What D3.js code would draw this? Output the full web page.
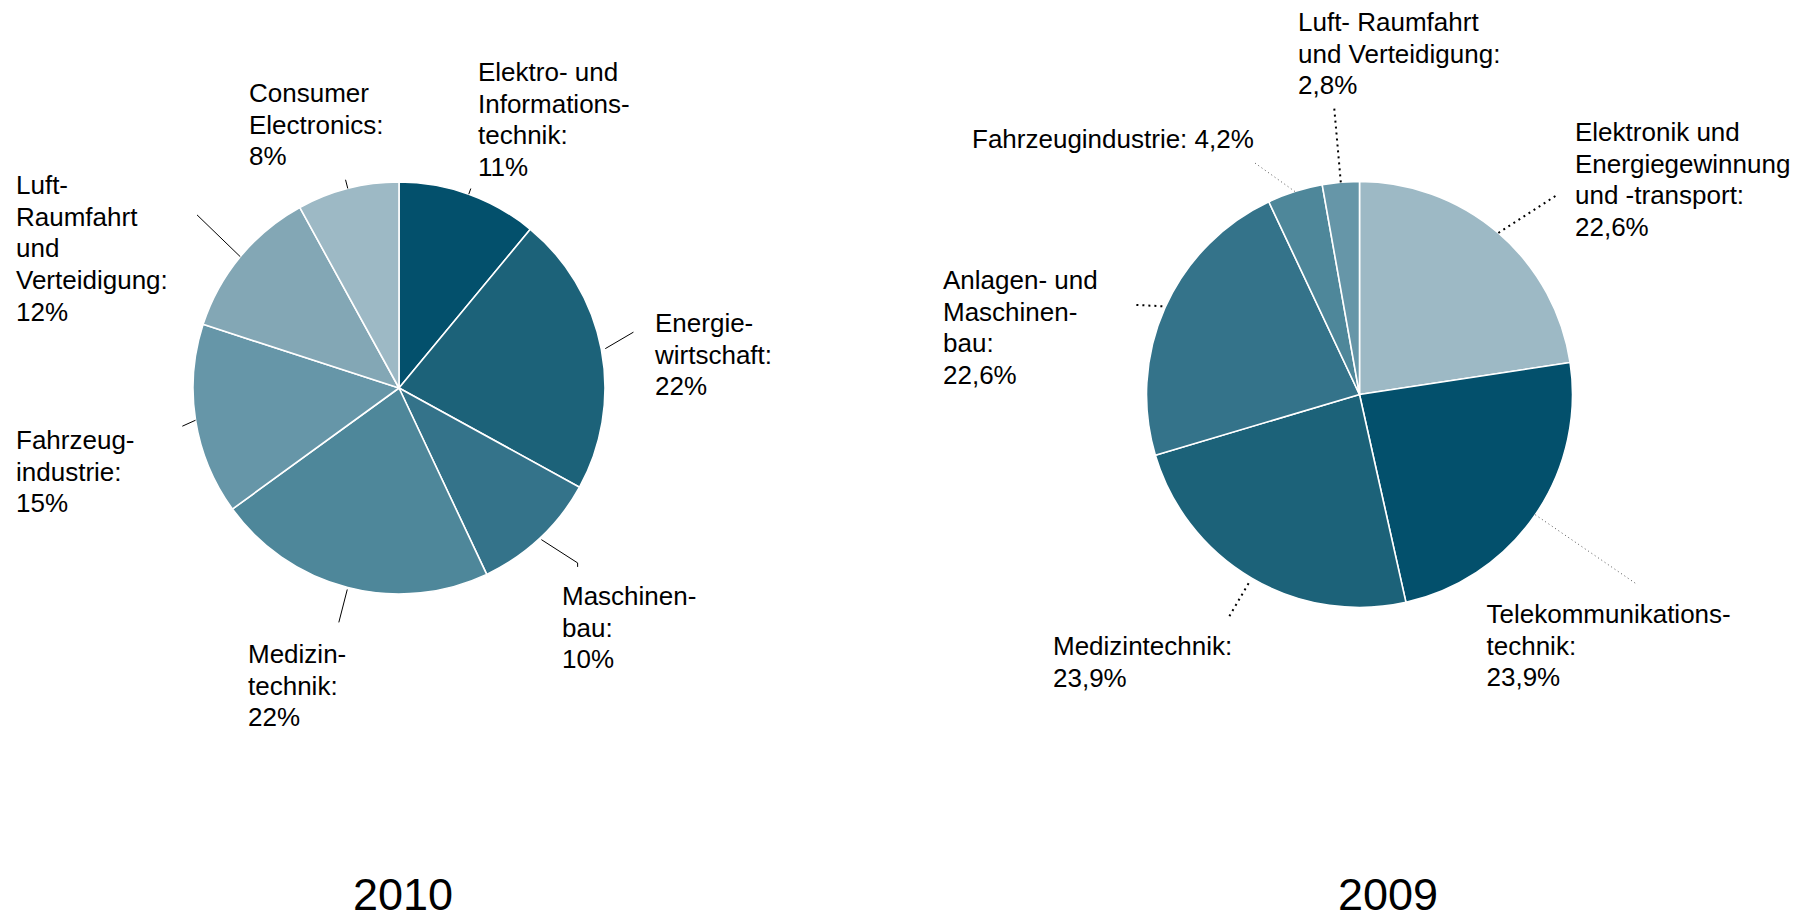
<!DOCTYPE html>
<html>
<head>
<meta charset="utf-8">
<script src="https://cdn.jsdelivr.net/npm/d3@7"></script>
<style>
  html, body { margin: 0; padding: 0; background: #fff; }
  svg { display: block; font-family: "Liberation Sans", Arial, sans-serif; }
  .label { font-size: 26px; fill: #000; }
  .title { font-size: 45px; fill: #000; }
</style>
</head>
<body>
<svg id="chart" width="1814" height="921"></svg>
<script>
// data
const years = ["2010", "2009"];

const categories2010 = [
  ["Elektro- und", "Informations-", "technik:"],
  ["Energie-", "wirtschaft:"],
  ["Maschinen-", "bau:"],
  ["Medizin-", "technik:"],
  ["Fahrzeug-", "industrie:"],
  ["Luft-", "Raumfahrt", "und", "Verteidigung:"],
  ["Consumer", "Electronics:"]
];
const values2010 = [11, 22, 10, 22, 15, 12, 8];

const categories2009 = [
  ["Elektronik und", "Energiegewinnung", "und -transport:"],
  ["Telekommunikations-", "technik:"],
  ["Medizintechnik:"],
  ["Anlagen- und", "Maschinen-", "bau:"],
  ["Fahrzeugindustrie:"],
  ["Luft- Raumfahrt", "und Verteidigung:"]
];
const values2009 = [22.6, 23.9, 23.9, 22.6, 4.2, 2.8];

// palette, dark to light
const palette = ["#03506c", "#1c6279", "#34738a", "#4e879a", "#6696a8", "#83a7b5", "#9db9c5"];

const de = d3.formatLocale({ decimal: ",", thousands: ".", grouping: [3], currency: ["", " €"] });

// label placement (offset of first baseline from pie centre) and leader lines
// leader: [start offset from rim, end offset from rim, angle shift of outer end in degrees]
const layout2010 = [
  { pos: [79, -307], leader: [0, 6, 0] },
  { pos: [256, -56], leader: [4, 35, -2.6] },
  { pos: [163, 217], leader: [2, 44, -2.4], tick: 4 },
  { pos: [-151, 275], leader: [2, 36, 0] },
  { pos: [-383, 61], leader: [0, 14, -1] },
  { pos: [-383, -194], leader: [0, 60, 1] },
  { pos: [-150, -286], leader: [0, 9, 0] }
];
const layout2009 = [
  { pos: [215.5, -253.5], leader: [0, 67, 4] },
  { pos: [127, 228.5], leader: [0, 124, 0], fine: true },
  { pos: [-306.5, 260.5], leader: [6, 44, 0] },
  { pos: [-416.5, -105.5], leader: [3, 28, -2.3] },
  { pos: [-387.5, -246.5], leader: [0, 42, -6.8], fine: true, inline: true },
  { pos: [-61.5, -363.5], leader: [0, 75, 0] }
];

const charts = [
  {
    year: years[0], names: categories2010, values: values2010, layout: layout2010,
    colors: palette, fmt: de.format(".0f"), cx: 399, cy: 388, r: 206, titleX: 403, dotted: false
  },
  {
    year: years[1], names: categories2009, values: values2009, layout: layout2009,
    colors: [palette[6], palette[0], palette[1], palette[2], palette[3], palette[4]],
    fmt: de.format(".1f"), cx: 1359.5, cy: 394.5, r: 213, titleX: 1388, dotted: true
  }
];

const svg = d3.select("#chart");
const lineH = 31.7;

const pie = d3.pie().sort(null).value(d => d.value);
const rad = Math.PI / 180;

charts.forEach(c => {
  const data = c.values.map((v, i) => ({ value: v, name: c.names[i], i }));
  const arcs = pie(data);
  const arc = d3.arc().innerRadius(0).outerRadius(c.r);
  const color = d3.scaleOrdinal().domain(d3.range(data.length)).range(c.colors);

  const g = svg.append("g").attr("transform", `translate(${c.cx},${c.cy})`);

  g.selectAll("path.slice")
    .data(arcs)
    .join("path")
    .attr("class", "slice")
    .attr("d", arc)
    .attr("fill", d => color(d.data.i))
    .attr("stroke", "#fff")
    .attr("stroke-width", 1.6)
    .attr("stroke-linejoin", "round");

  // polar helper, angle clockwise from north
  const polar = (a, rr) => [rr * Math.sin(a), -rr * Math.cos(a)];

  const leaders = arcs.map(d => {
    const L = c.layout[d.data.i];
    const mid = (d.startAngle + d.endAngle) / 2;
    const p0 = polar(mid, c.r + L.leader[0]);
    const p1 = polar(mid + L.leader[2] * rad, c.r + L.leader[1]);
    const pts = [p0, p1];
    if (L.tick) pts.push([p1[0], p1[1] + L.tick]);
    return { pts, fine: L.fine };
  });

  g.selectAll("path.leader")
    .data(leaders)
    .join("path")
    .attr("class", "leader")
    .attr("d", d => d3.line()(d.pts))
    .attr("fill", "none")
    .attr("stroke", d => (d.fine ? "#555" : "#000"))
    .attr("stroke-width", d => (c.dotted ? (d.fine ? 1 : 2) : 1))
    .attr("stroke-dasharray", d => (c.dotted ? (d.fine ? "1,3" : "2,4") : null));

  const labels = g.selectAll("text.label")
    .data(arcs)
    .join("text")
    .attr("class", "label")
    .attr("x", d => c.layout[d.data.i].pos[0])
    .attr("y", d => c.layout[d.data.i].pos[1]);

  labels.each(function(d) {
    const L = c.layout[d.data.i];
    const pct = c.fmt(d.data.value) + "%";
    const lines = L.inline
      ? d.data.name.slice(0, -1).concat([d.data.name[d.data.name.length - 1] + " " + pct])
      : d.data.name.concat([pct]);
    d3.select(this)
      .selectAll("tspan")
      .data(lines)
      .join("tspan")
      .attr("x", L.pos[0])
      .attr("dy", (t, j) => (j === 0 ? 0 : lineH))
      .text(t => t);
  });

  // year caption, kept just clear of the bottom edge
  svg.append("text")
    .attr("class", "title")
    .attr("x", c.titleX)
    .attr("y", 910)
    .attr("text-anchor", "middle")
    .text(c.year);
});
</script>
</body>
</html>
